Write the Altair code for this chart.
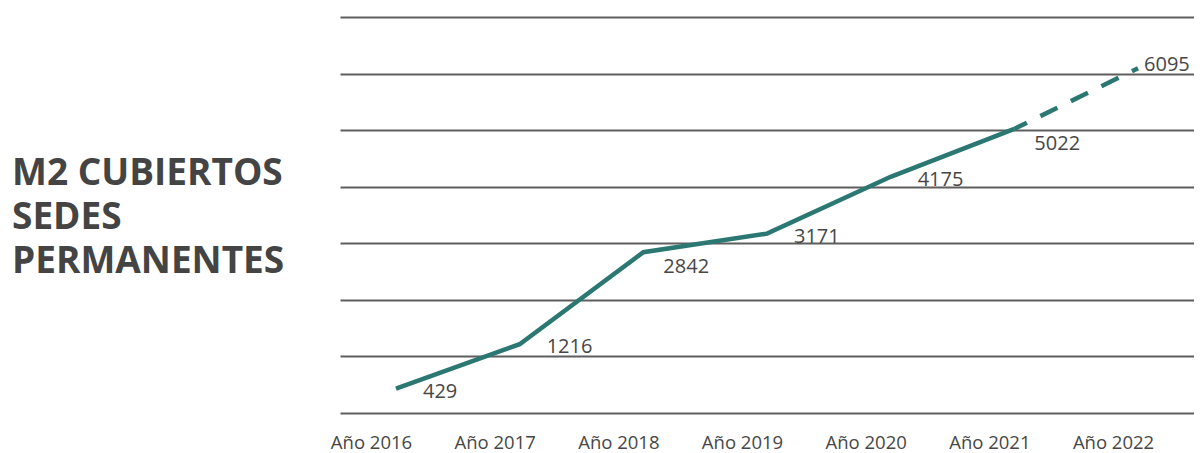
import altair as alt
import pandas as pd

years = ["Año 2016", "Año 2017", "Año 2018", "Año 2019", "Año 2020", "Año 2021", "Año 2022"]
values = [429, 1216, 2842, 3171, 4175, 5022, 6095]
solid_years = years[:6]
dashed_years = years[5:]
below_years = ["Año 2018", "Año 2021"]
end_years = ["Año 2022"]
title_lines = ["M2 CUBIERTOS", "SEDES", "PERMANENTES"]

df = pd.DataFrame({"year": years, "value": values})

LINE = "#2a7871"
TEXT = "#474747"
FONT = "Open Sans"

x = alt.X("year:O", sort=years,
          scale=alt.Scale(type="point", padding=0.4526),
          axis=alt.Axis(title=None, labelAngle=0, domain=False, ticks=False, grid=False,
                        labelFont=FONT, labelFontSize=18.5, labelColor=TEXT,
                        labelPadding=20, labelOffset=-25))
y = alt.Y("value:Q",
          scale=alt.Scale(domain=[0, 7000], nice=False),
          axis=alt.Axis(title=None, labels=False, ticks=False, domain=False,
                        values=list(range(0, 7001, 1000)),
                        gridColor="#5e5e5e", gridWidth=1.8, gridOpacity=1))

base = alt.Chart(df)

solid = base.mark_line(color=LINE, strokeWidth=4.5, strokeCap="butt").encode(x=x, y=y).transform_filter(
    alt.FieldOneOfPredicate(field="year", oneOf=solid_years))
dashed = base.mark_line(color=LINE, strokeWidth=4.5, strokeDash=[19, 15], strokeDashOffset=5,
                        strokeCap="butt").encode(x=x, y=y).transform_filter(
    alt.FieldOneOfPredicate(field="year", oneOf=dashed_years))

def labels(filt, dx, dy):
    return base.mark_text(align="left", baseline="middle", dx=dx, dy=dy,
                          font=FONT, fontSize=20, color=TEXT).encode(
        x=x, y=y, text="value:Q").transform_filter(filt)

labels_right = labels(~alt.FieldOneOfPredicate(field="year", oneOf=below_years + end_years), 27, 3)
labels_below = labels(alt.FieldOneOfPredicate(field="year", oneOf=below_years), 20, 15)
labels_end = labels(alt.FieldOneOfPredicate(field="year", oneOf=end_years), 6, -3)

title = alt.Chart(pd.DataFrame({"t": ["\n".join(title_lines)]})).mark_text(
    align="left", baseline="alphabetic", lineBreak="\n", lineHeight=44,
    font=FONT, fontSize=37, fontWeight="bold", color="#444444").encode(
    text="t:N", x=alt.value(-328), y=alt.value(168))

chart = alt.layer(solid, dashed, labels_right, labels_below, labels_end, title).properties(
    width=854, height=396,
    background="white",
    autosize=alt.AutoSizeParams(type="none"),
    padding={"left": 332, "top": 9, "right": 0, "bottom": 44},
).configure_view(stroke=None)

chart.save("out.html", embed_options={"renderer": "svg", "actions": False})
